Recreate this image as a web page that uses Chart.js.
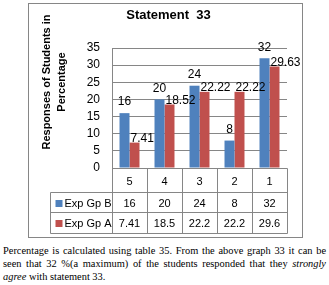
<!DOCTYPE html>
<html>
<head>
<meta charset="utf-8">
<script src="https://cdn.jsdelivr.net/npm/chart.js@4.4.0/dist/chart.umd.min.js"></script>
<style>
body { margin: 0; background: #fff; width: 329px; height: 285px; overflow: hidden; position: relative; }
#box { position: absolute; left: 28px; top: 3px; width: 273px; height: 233px; border: 1px solid #868686; }
#note { position: absolute; left: 3px; top: 244px; width: 323px; font-family: "Liberation Serif", "Times New Roman", serif; font-size: 10.4px; line-height: 13px; color: #000; }
#note .j { text-align: justify; text-align-last: justify; white-space: nowrap; }
</style>
</head>
<body>
<div id="box"><canvas id="statementChart" width="273" height="233"></canvas></div>
<div id="note">
  <div class="j">Percentage is calculated using table 35. From the above graph 33 it can be</div>
  <div class="j">seen that 32 %(a maximum) of the students responded that they <i>strongly</i></div>
  <div><i>agree</i> with statement 33.</div>
</div>
<script>
//chart data
var chartTitle = 'Statement  33';
var yTitle = ['Responses of Students in', 'Percentage'];
var categories = ['5', '4', '3', '2', '1'];
var seriesNames = ['Exp Gp B', 'Exp Gp A'];
var expGpB = [16, 20, 24, 8, 32];
var expGpA = [7.41, 18.52, 22.22, 22.22, 29.63];
var tableGpB = ['16', '20', '24', '8', '32'];
var tableGpA = ['7.41', '18.5', '22.2', '22.2', '29.6'];
var yMin = 0;
var yMax = 35;
var yStep = 5;

var colors = ['#4F81BD', '#C0504D'];
var lineColor = '#868686';
var font = '"Liberation Sans", Arial, sans-serif';

//title, axis title, bar labels and data table
var extrasPlugin = {
    id: 'extras',
    afterDraw: function (chart) {
        var ctx = chart.ctx;
        var area = chart.chartArea;
        var x = chart.scales.x;
        var colW = x.getPixelForValue(1) - x.getPixelForValue(0);
        ctx.save();
        ctx.fillStyle = '#000';

        //chart title
        ctx.font = 'bold 13px ' + font;
        ctx.textAlign = 'center';
        ctx.textBaseline = 'middle';
        ctx.fillText(chartTitle, chart.width / 2 + 3, 11);

        //y axis title
        ctx.save();
        ctx.translate(18, 78);
        ctx.rotate(-Math.PI / 2);
        ctx.font = 'bold 11px ' + font;
        ctx.fillText(yTitle[0], 0, 0);
        ctx.fillText(yTitle[1], 0, 15);
        ctx.restore();

        //bar labels
        ctx.font = '12px ' + font;
        chart.getDatasetMeta(0).data.forEach(function (bar, i) {
            ctx.textAlign = 'center';
            ctx.fillText(String(expGpB[i]), bar.x, bar.y - 11);
        });
        chart.getDatasetMeta(1).data.forEach(function (bar, i) {
            ctx.textAlign = 'left';
            ctx.fillText(expGpA[i].toFixed(2), bar.x - bar.width / 2 + 1, bar.y - 4);
        });

        //data table
        var top = Math.round(area.bottom) + 0.5;
        var rows = [top, top + 24, top + 44, top + 65];
        var tableLeft = Math.round(area.left - 62) + 0.5;
        var plotLeft = Math.round(area.left) + 0.5;
        var plotRight = Math.round(area.right) + 0.5;
        ctx.strokeStyle = lineColor;
        ctx.lineWidth = 1;
        ctx.beginPath();
        ctx.moveTo(plotLeft, rows[0]); ctx.lineTo(plotRight, rows[0]);
        for (var r = 1; r < rows.length; r++) {
            ctx.moveTo(tableLeft, rows[r]); ctx.lineTo(plotRight, rows[r]);
        }
        ctx.moveTo(tableLeft, rows[1]); ctx.lineTo(tableLeft, rows[3]);
        for (var c = 0; c <= categories.length; c++) {
            var cx = Math.round(x.getPixelForValue(c) - colW / 2) + 0.5;
            ctx.moveTo(cx, rows[0]); ctx.lineTo(cx, rows[3]);
        }
        ctx.stroke();

        ctx.font = '11px ' + font;
        ctx.textAlign = 'center';
        categories.forEach(function (cat, i) {
            var px = x.getPixelForValue(i);
            ctx.fillText(cat, px, (rows[0] + rows[1]) / 2 + 1);
            ctx.fillText(tableGpB[i], px, (rows[1] + rows[2]) / 2 + 1);
            ctx.fillText(tableGpA[i], px, (rows[2] + rows[3]) / 2 + 1);
        });

        //legend keys in the table
        ctx.textAlign = 'left';
        seriesNames.forEach(function (name, i) {
            var cy = (rows[i + 1] + rows[i + 2]) / 2;
            ctx.fillStyle = colors[i];
            ctx.fillRect(tableLeft + 5, Math.round(cy) - 3, 7, 7);
            ctx.fillStyle = '#000';
            ctx.fillText(name, tableLeft + 14, cy + 1);
        });
        ctx.restore();
    }
};

const ctx = document.getElementById('statementChart');
new Chart(ctx, {
    type: 'bar',
    data: {
        labels: categories,
        datasets: [{
            label: seriesNames[0],
            data: expGpB,
            backgroundColor: colors[0]
        }, {
            label: seriesNames[1],
            data: expGpA,
            backgroundColor: colors[1]
        }]
    },
    options: {
        responsive: false,
        animation: false,
        layout: { padding: { top: 44, bottom: 69, left: 0, right: 15 } },
        datasets: { bar: { categoryPercentage: 0.571, barPercentage: 1 } },
        plugins: {
            legend: { display: false },
            tooltip: { enabled: false },
            title: { display: false }
        },
        scales: {
            x: { display: false },
            y: {
                min: yMin,
                max: yMax,
                ticks: {
                    stepSize: yStep,
                    autoSkip: false,
                    padding: 12,
                    color: '#000',
                    font: { family: font, size: 12 }
                },
                grid: { color: lineColor, drawTicks: false },
                border: { color: lineColor },
                afterFit: function (scale) { scale.width = 83; }
            }
        }
    },
    plugins: [extrasPlugin]
});
</script>
</body>
</html>
